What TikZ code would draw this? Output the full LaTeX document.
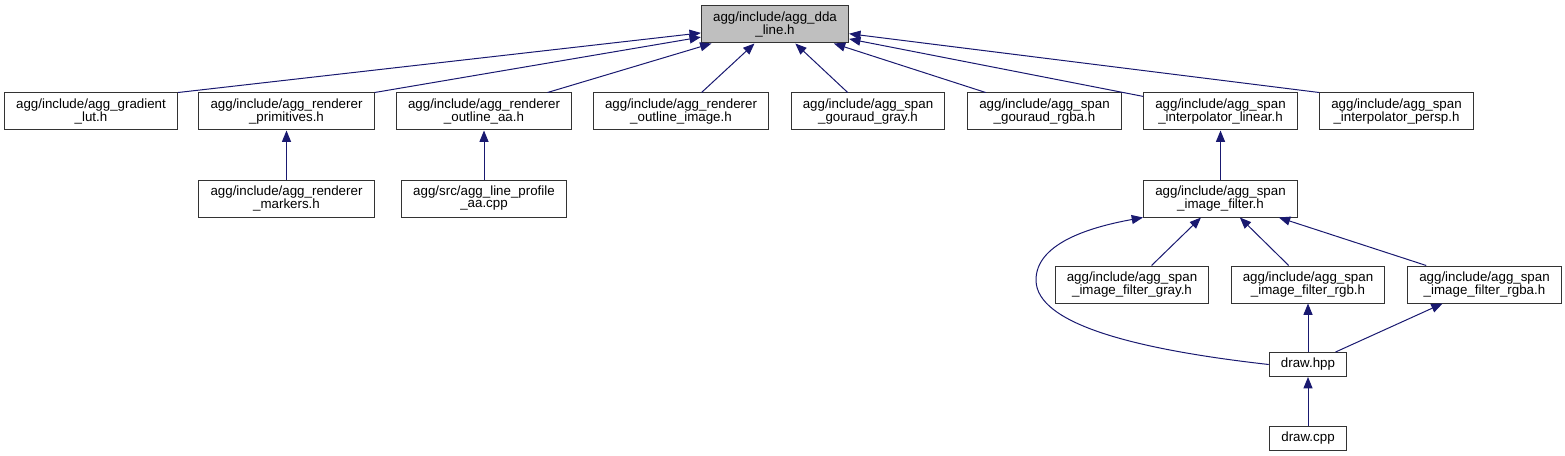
\documentclass[tikz,border=0pt]{standalone}
\usepackage{fontspec}
\setmainfont{Liberation Sans}
\usepackage{tikz}
\usetikzlibrary{arrows.meta,positioning}
\definecolor{depBlue}{HTML}{191970}
\definecolor{rootGray}{HTML}{BFBFBF}
\tikzset{
    file/.style={draw=black!80, fill=white, line width=0.75pt, align=center,
                 font=\fontsize{10pt}{9pt}\selectfont, inner xsep=8.8pt,
                 inner ysep=0pt, minimum height=27.75pt},
    root/.style={file, fill=rootGray},
    small/.style={file, minimum height=18pt},
    dep/.style={<-, draw=depBlue, line width=0.75pt,
                >={Triangle[length=8.5pt, width=6.75pt]}}
}

\begin{document}
\begin{tikzpicture}[x=0.75pt, y=-0.75pt]
    \useasboundingbox (0,0) rectangle (1565,456);
    % Root
    \node[root] (dda) at (775,24.5) {agg/include/agg\_dda\\\_line.h};
    % First row
    \node[file] (glut)   at (91,111.5)    {agg/include/agg\_gradient\\\_lut.h};
    \node[file] (prim)   at (286.5,111.5) {agg/include/agg\_renderer\\\_primitives.h};
    \node[file] (oaa)    at (484,111.5)   {agg/include/agg\_renderer\\\_outline\_aa.h};
    \node[file] (oimg)   at (681,111.5)   {agg/include/agg\_renderer\\\_outline\_image.h};
    \node[file] (ggray)  at (868,111.5)   {agg/include/agg\_span\\\_gouraud\_gray.h};
    \node[file] (grgba)  at (1044.5,111.5) {agg/include/agg\_span\\\_gouraud\_rgba.h};
    \node[file] (ilin)   at (1220.5,111.5) {agg/include/agg\_span\\\_interpolator\_linear.h};
    \node[file] (ipersp) at (1396.5,111.5) {agg/include/agg\_span\\\_interpolator\_persp.h};
    % Second row
    \node[file] (mark)  at (286.5,198.5)  {agg/include/agg\_renderer\\\_markers.h};
    \node[file] (lprof) at (484,198.5)    {agg/src/agg\_line\_profile\\\_aa.cpp};
    \node[file] (filt)  at (1220.5,198.5) {agg/include/agg\_span\\\_image\_filter.h};
    % Filters
    \node[file] (fgray) at (1132,284.5)   {agg/include/agg\_span\\\_image\_filter\_gray.h};
    \node[file] (frgb)  at (1308,284.5)   {agg/include/agg\_span\\\_image\_filter\_rgb.h};
    \node[file] (frgba) at (1484.5,284.5) {agg/include/agg\_span\\\_image\_filter\_rgba.h};
    % Draw files
    \node[small] (hpp) at (1308,364.5) {draw.hpp};
    \node[small] (cpp) at (1308,438)   {draw.cpp};

    % Edges
    \draw[dep] (dda) -- (glut.north east);
    \draw[dep] (dda) -- (prim.north east);
    \foreach \n in {oaa,oimg,ggray,grgba,ilin}
        \draw[dep] (dda) -- (\n);
    \draw[dep] (dda) -- (ipersp.north west);
    \draw[dep] (prim) -- (mark);
    \draw[dep] (oaa) -- (lprof);
    \draw[dep] (ilin) -- (filt);
    \foreach \n in {fgray,frgb,frgba}
        \draw[dep] (filt) -- (\n);
    \draw[dep] (frgb) -- (hpp);
    \draw[dep] (frgba) -- (hpp);
    \draw[dep] (hpp) -- (cpp);
    \coordinate (bend) at (1036,280);
    \draw[dep] (filt.south west) .. controls (1085,228) and (1036,245) .. (bend)
        .. controls (1036,325) and (1140,350) .. (hpp.west);
\end{tikzpicture}
\end{document}
